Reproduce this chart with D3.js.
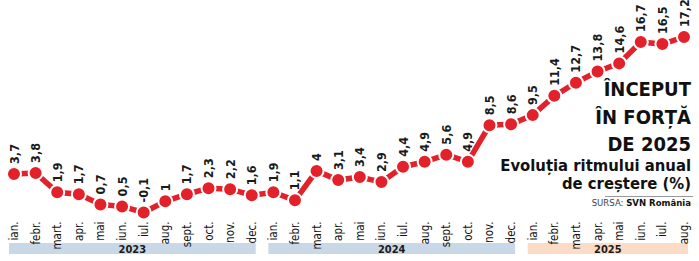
<!DOCTYPE html>
<html><head><meta charset="utf-8">
<script src="https://cdn.jsdelivr.net/npm/d3@7"></script>
<style>
body{margin:0;background:#fff;}
svg text{font-family:"Liberation Sans Narrow","DejaVu Sans Condensed","Arial Narrow",sans-serif;font-stretch:condensed;}
</style></head>
<body><svg id="c" width="699" height="261"></svg>
<script>
const monthNames = ["ian.","febr.","mart.","apr.","mai","iun.","iul.","aug.","sept.","oct.","nov.","dec."];
const years = ["2023","2024","2025"];
const monthsPerYear = [12,12,8];
const values = [3.7,3.8,1.9,1.7,0.7,0.5,-0.1,1,1.7,2.3,2.2,1.6,
                1.9,1.1,4,3.1,3.4,2.9,4.4,4.9,5.6,4.9,8.5,8.6,
                9.5,11.4,12.7,13.8,14.6,16.7,16.5,17.2];
const titleLines = ["ÎNCEPUT","ÎN FORȚĂ","DE 2025"];
const subtitleLines = ["Evoluția ritmului anual","de creștere (%)"];
const sourceLabel = "SURSA:";
const sourceName = "SVN România";
const yearColors = ["#c9d8e7","#c9d8e7","#fcdcc6"];

const svg = d3.select("#c");
const red = "#e3212b", txt = "#1a1a1a";

const points = [];
years.forEach((y,yi)=>{ for(let m=0;m<monthsPerYear[yi];m++) points.push({year:y, yi, month:monthNames[m], v:values[points.length]}); });
points.forEach((p,i)=>p.i=i);

const x = d3.scaleLinear().domain([0, points.length-1]).range([14, 684]);
const y = d3.scaleLinear().domain([0, 17.2]).range([211.5, 37]);

// year bands
years.forEach((yr,yi)=>{
  const idx = points.filter(p=>p.yi===yi).map(p=>p.i);
  const x0 = x(d3.min(idx))-5, x1 = x(d3.max(idx))+4;
  svg.append("rect").attr("x",x0).attr("y",243).attr("width",x1-x0).attr("height",11).attr("fill",yearColors[yi]);
  svg.append("text").attr("x",(x0+x1)/2).attr("y",252.5).attr("text-anchor","middle")
    .attr("font-size",11).attr("font-weight","bold").attr("fill",txt).text(yr);
});

// month labels
svg.selectAll("text.m").data(points).enter().append("text").attr("class","m")
  .attr("transform",d=>`translate(${x(d.i)+4},221.5) rotate(-90)`)
  .attr("text-anchor","end").attr("font-size",11.5).attr("fill","#111").text(d=>d.month);

// line
svg.append("path").datum(points)
  .attr("d", d3.line().x(d=>x(d.i)).y(d=>y(d.v)))
  .attr("fill","none").attr("stroke",red).attr("stroke-width",5.5);

svg.selectAll("circle").data(points).enter().append("circle")
  .attr("cx",d=>x(d.i)).attr("cy",d=>y(d.v)).attr("r",7)
  .attr("fill",red).attr("stroke","#fff").attr("stroke-width",2);

// value labels
const fmt = v => String(v).replace(".",",");
svg.selectAll("text.v").data(points).enter().append("text").attr("class","v")
  .attr("transform",d=>`translate(${x(d.i)+4.5},${y(d.v)-10}) rotate(-90)`)
  .attr("font-size",12.5).attr("font-weight","bold").attr("fill",txt).text(d=>fmt(d.v));

// title
const tx = 691;
titleLines.forEach((t,i)=>{
  svg.append("text").attr("x",tx).attr("y",96+i*27.5).attr("text-anchor","end")
    .attr("font-size",20).attr("font-weight","bold").attr("fill","#111").text(t);
});
subtitleLines.forEach((t,i)=>{
  svg.append("text").attr("x",tx).attr("y",171+i*18).attr("text-anchor","end")
    .attr("font-size",16.5).attr("font-weight","bold").attr("fill","#111").text(t);
});
svg.append("line").attr("x1",605).attr("x2",693).attr("y1",196.5).attr("y2",196.5)
  .attr("stroke","#999").attr("stroke-width",1);
const s = svg.append("text").attr("x",tx).attr("y",206).attr("text-anchor","end").attr("font-size",9.5).attr("fill","#444");
s.append("tspan").text(sourceLabel+" ");
s.append("tspan").attr("font-weight","bold").attr("fill","#111").text(sourceName);
</script></body></html>
